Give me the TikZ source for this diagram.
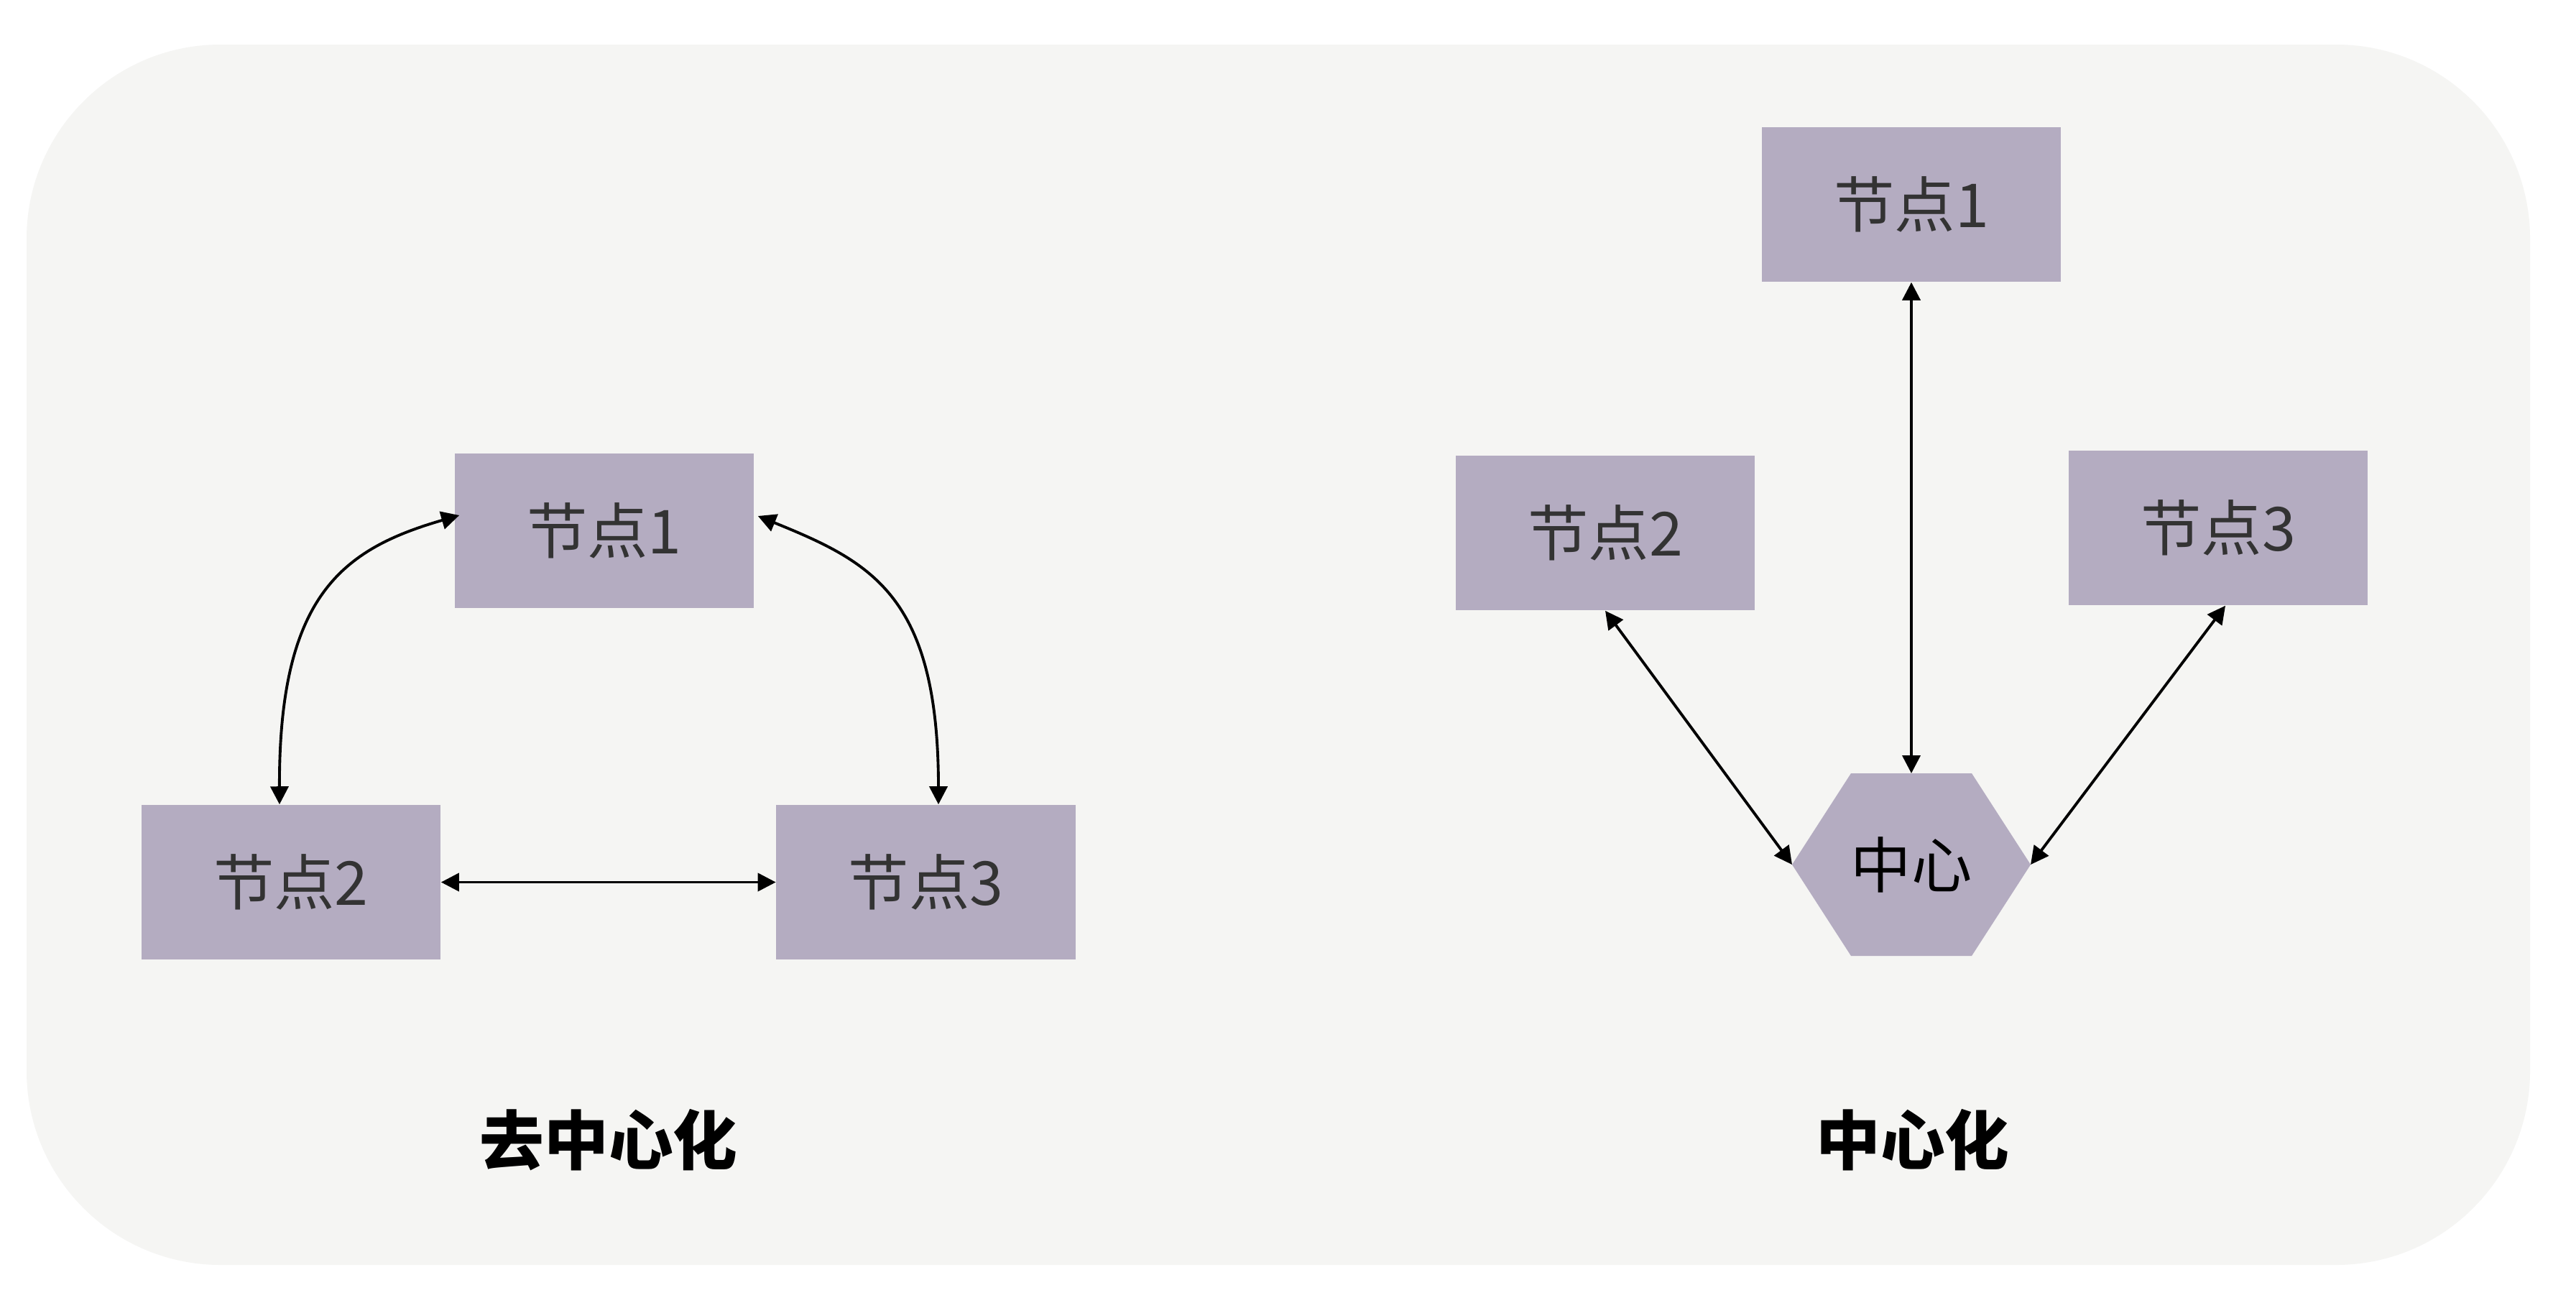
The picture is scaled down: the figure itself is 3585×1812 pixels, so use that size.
\documentclass[tikz,border=0pt]{standalone}
\usepackage{fontspec}
\setmainfont{Noto Sans CJK SC}
\usetikzlibrary{arrows.meta}
\definecolor{bgcol}{HTML}{F5F5F3}
\definecolor{boxcol}{HTML}{B4ACC1}
\definecolor{txtcol}{HTML}{333333}
\tikzset{
  nodebox/.style={rectangle, fill=boxcol, minimum width=4.16cm, minimum height=2.15cm, inner sep=0pt, text=txtcol, font=\fontsize{24}{28}\selectfont},
  hexlabel/.style={inner sep=0pt, text=black, font=\fontsize{24}{28}\selectfont},
  titlelabel/.style={inner sep=0pt, text=black, font=\fontsize{25.5}{30}\selectfont\bfseries},
  conn/.style={line width=1.1pt, black, {Triangle[length=0.25cm,width=0.25cm]}-{Triangle[length=0.25cm,width=0.25cm]}}
}
\begin{document}
\begin{tikzpicture}[x=0.01cm, y=-0.01cm]
\useasboundingbox (0,0) rectangle (3585,1812);
\fill[white] (0,0) rectangle (3585,1812);
\fill[bgcol, rounded corners=2.7cm] (37,62) rectangle (3521,1760);

% left: decentralised
\node[nodebox] (n1L) at (841,738.5) {节点1};
\node[nodebox] (n2L) at (405,1227.5) {节点2};
\node[nodebox] (n3L) at (1288.5,1227.5) {节点3};

\draw[conn] ([xshift=-0.16cm]n2L.north) .. controls (388,828) and (477,764) .. ([xshift=0.07cm,yshift=0.215cm]n1L.west);
\draw[conn] ([xshift=0.05cm,yshift=0.205cm]n1L.east) .. controls (1212,782) and (1306,828) .. ([xshift=0.175cm]n3L.north);
\draw[conn] (n2L.east) -- (n3L.west);

\node[titlelabel] (t1) at (847,1586) {去中心化};

% right: centralised
\node[nodebox] (n1R) at (2660,284.5) {节点1};
\node[nodebox] (n2R) at (2234,741.5) {节点2};
\node[nodebox] (n3R) at (3087,734.5) {节点3};

\coordinate (hexL) at (2494,1203);
\coordinate (hexR) at (2826,1203);
\coordinate (hexT) at (2660,1076);
\fill[boxcol] (hexL) -- (2576,1076) -- (2744,1076) -- (hexR) -- (2744,1330) -- (2576,1330) -- cycle;
\node[hexlabel] (hex) at (2660,1203) {中心};

\draw[conn] (n1R.south) -- (hexT);
\draw[conn] (n2R.south) -- (hexL);
\draw[conn] ([xshift=0.1cm]n3R.south) -- (hexR);

\node[titlelabel] (t2) at (2662,1586) {中心化};
\end{tikzpicture}
\end{document}
